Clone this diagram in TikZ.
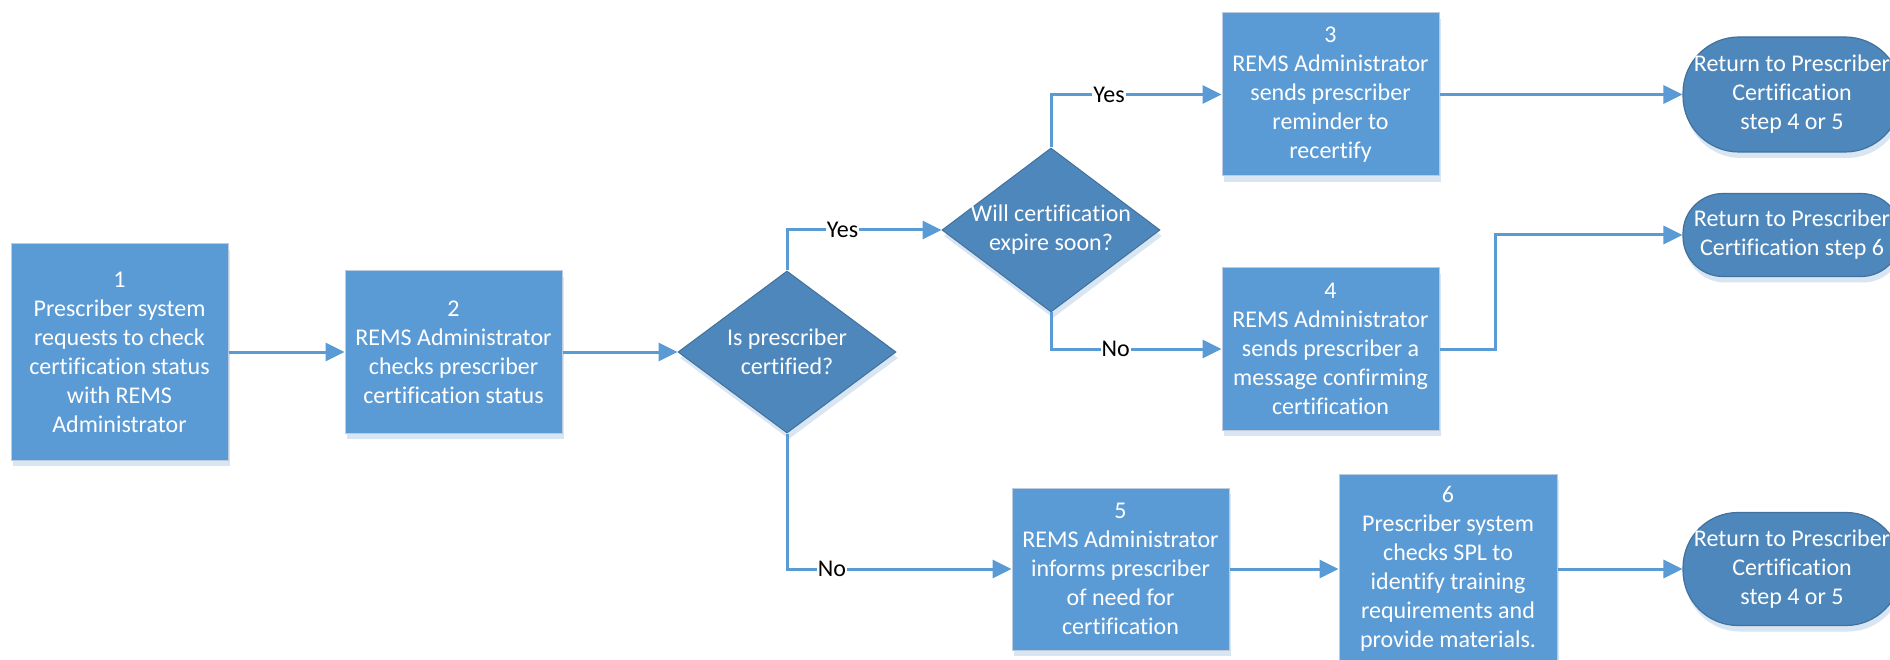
\documentclass[tikz,border=0pt]{standalone}
\usepackage{fontspec}
\setmainfont{Carlito}[Ligatures={NoCommon,NoRequired}]
\usetikzlibrary{shapes.geometric,arrows.meta,shadows}
\definecolor{boxc}{HTML}{5B9BD5}
\definecolor{boxborder}{HTML}{BCCBDD}
\definecolor{decc}{HTML}{4E87BB}
\definecolor{decborder}{HTML}{41719C}
\definecolor{shad}{HTML}{D8E5F3}
\definecolor{linec}{HTML}{5B9BD5}
\begin{document}
\begin{tikzpicture}[x=1pt,y=-1pt,
  txt/.style={font=\fontsize{24}{29}\selectfont},
  shadowed/.style={drop shadow={shadow xshift=2pt,shadow yshift=-6pt,fill=shad,opacity=1}},
  procbox/.style={txt,rectangle,fill=boxc,draw=boxborder,line width=1pt,text=white,align=center,inner sep=0pt,minimum width=217pt,shadowed},
  decision/.style={diamond,fill=decc,draw=decborder,line width=1pt,inner sep=0pt,minimum width=218pt,shadowed},
  dtext/.style={txt,text=white,align=center,inner sep=0pt},
  terminal/.style={txt,rectangle,fill=decc,draw=decborder,line width=1.2pt,text=white,align=center,inner sep=0pt,minimum width=218pt,shadowed},
  conn/.style={draw=linec,line width=3pt,-{Triangle[length=19pt,width=18pt]}},
  lbl/.style={txt,fill=white,text=black,inner sep=1pt}]
\useasboundingbox (0,0) rectangle (1890,660);
\fill[white] (0,0) rectangle (1890,660);

% process boxes
\node[procbox,minimum height=216pt] (b1) at (119.5,352) {1\\Prescriber system\\requests to check\\certification status\\with REMS\\Administrator};
\node[procbox,minimum height=162pt] (b2) at (453.5,352) {2\\REMS Administrator\\checks prescriber\\certification status};
\node[procbox,minimum height=163pt] (b3) at (1330.5,94.5) {3\\REMS Administrator\\sends prescriber\\reminder to\\recertify};
\node[procbox,minimum height=162pt] (b4) at (1330.5,349) {4\\REMS Administrator\\sends prescriber a\\message confirming\\certification};
\node[procbox,minimum height=162pt] (b5) at (1120.5,569) {5\\REMS Administrator\\informs prescriber\\of need for\\certification};
\node[procbox,minimum width=218pt,minimum height=190pt] (b6) at (1448,569) {6\\Prescriber system\\checks SPL to\\identify training\\requirements and\\provide materials.};

% decisions
\node[decision,minimum height=162pt] (d1) at (787,352) {};
\node[dtext] at (d1.center) {Is prescriber\\certified?};
\node[decision,minimum height=164pt] (d2) at (1051,230) {};
\node[dtext] at (d2.center) {Will certification\\expire soon?};

% terminals
\node[terminal,minimum height=115pt,rounded corners=56pt] (t1) at (1792,94.5) {Return to Prescriber\\Certification\\step 4 or 5};
\node[terminal,minimum height=83pt,rounded corners=40pt] (t2) at (1792,235) {Return to Prescriber\\Certification step 6};
\node[terminal,minimum height=113pt,rounded corners=55pt] (t3) at (1792,569) {Return to Prescriber\\Certification\\step 4 or 5};

% connectors
\draw[conn] (b1.east) -- (b2.west);
\draw[conn] (b2.east) -- (d1.west);
\draw[conn] (d1.north) |- node[lbl,pos=0.68] {Yes} (d2.west);
\draw[conn] (d1.south) |- node[lbl,pos=0.6] {No} (b5.west);
\draw[conn] (d2.north) |- node[lbl,pos=0.67] {Yes} (b3.west);
\draw[conn] (d2.south) |- node[lbl,pos=0.69] {No} (b4.west);
\draw[conn] (b3.east) -- (t1.west);
\coordinate (k4) at (1495,349);
\draw[conn] (b4.east) -- (k4) |- (t2.west);
\draw[conn] (b5.east) -- (b6.west);
\draw[conn] (b6.east) -- (t3.west);
\end{tikzpicture}
\end{document}
